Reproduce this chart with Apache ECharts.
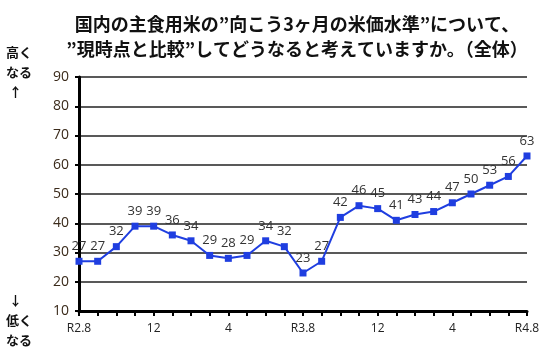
<!DOCTYPE html>
<html><head><meta charset="utf-8">
<script src="https://cdn.jsdelivr.net/npm/echarts@6/dist/echarts.min.js"></script>
<style>html,body{margin:0;padding:0;background:#fff}#c{width:550px;height:358px}</style>
</head><body><div id="c"></div>
<script>
var categories = ['R2.8','9','10','11','12','1','2','3','4','5','6','7','R3.8','9','10','11','12','1','2','3','4','5','6','7','R4.8'];
var shownLabels = ['R2.8','12','4','R3.8','12','4','R4.8'];
var values = [27,27,32,39,39,36,34,29,28,29,34,32,23,27,42,46,45,41,43,44,47,50,53,56,63];
var yTicks = [10,20,30,40,50,60,70,80,90];
var titleLines = ['国内の主食用米の”向こう3ヶ月の米価水準”について、','”現時点と比較”してどうなると考えていますか。（全体）'];

var chart = echarts.init(document.getElementById('c'));
var jp = '"Noto Sans CJK JP", sans-serif';
chart.setOption({
  animation:false,
  title:{text:titleLines.join('\n'), left:292, top:7, textAlign:'center',
    textStyle:{fontFamily:jp, fontWeight:'bold', fontSize:18, color:'#111', lineHeight:25}},
  graphic:[
    {type:'text', left:6, top:42, style:{text:'高く\nなる\n ↑', font:'bold 13px '+jp, fill:'#111', lineHeight:20}},
    {type:'text', left:6, top:290, style:{text:' ↓\n低く\nなる', font:'bold 13px '+jp, fill:'#111', lineHeight:20}}
  ],
  grid:{left:79, right:23, top:77, bottom:47},
  xAxis:{type:'category', data:categories, boundaryGap:false,
    axisLine:{lineStyle:{color:'#000', width:3}},
    axisTick:{show:true, interval:0, length:5, lineStyle:{color:'#000', width:2}},
    axisLabel:{interval:0, margin:12, fontSize:12, fontFamily:'"Open Sans", sans-serif', color:'#222',
      formatter:function(v,i){return (i%4===0)? v : '';}}
  },
  yAxis:{type:'value', min:10, max:90, interval:10,
    axisLine:{show:true, lineStyle:{color:'#000', width:3}},
    axisTick:{show:true, length:4, lineStyle:{color:'#000', width:2}},
    splitLine:{lineStyle:{color:'#222', width:1.5}},
    axisLabel:{fontSize:14, margin:10, fontFamily:'"Open Sans", sans-serif', color:'#3a2a1a'}
  },
  series:[{type:'line', data:values, symbol:'rect', symbolSize:7,
    lineStyle:{color:'#1f3ee0', width:2}, itemStyle:{color:'#1f3ee0'},
    label:{show:true, position:'top', distance:5, fontSize:13, fontFamily:'"Open Sans", sans-serif', color:'#333'}
  }]
});
</script></body></html>
